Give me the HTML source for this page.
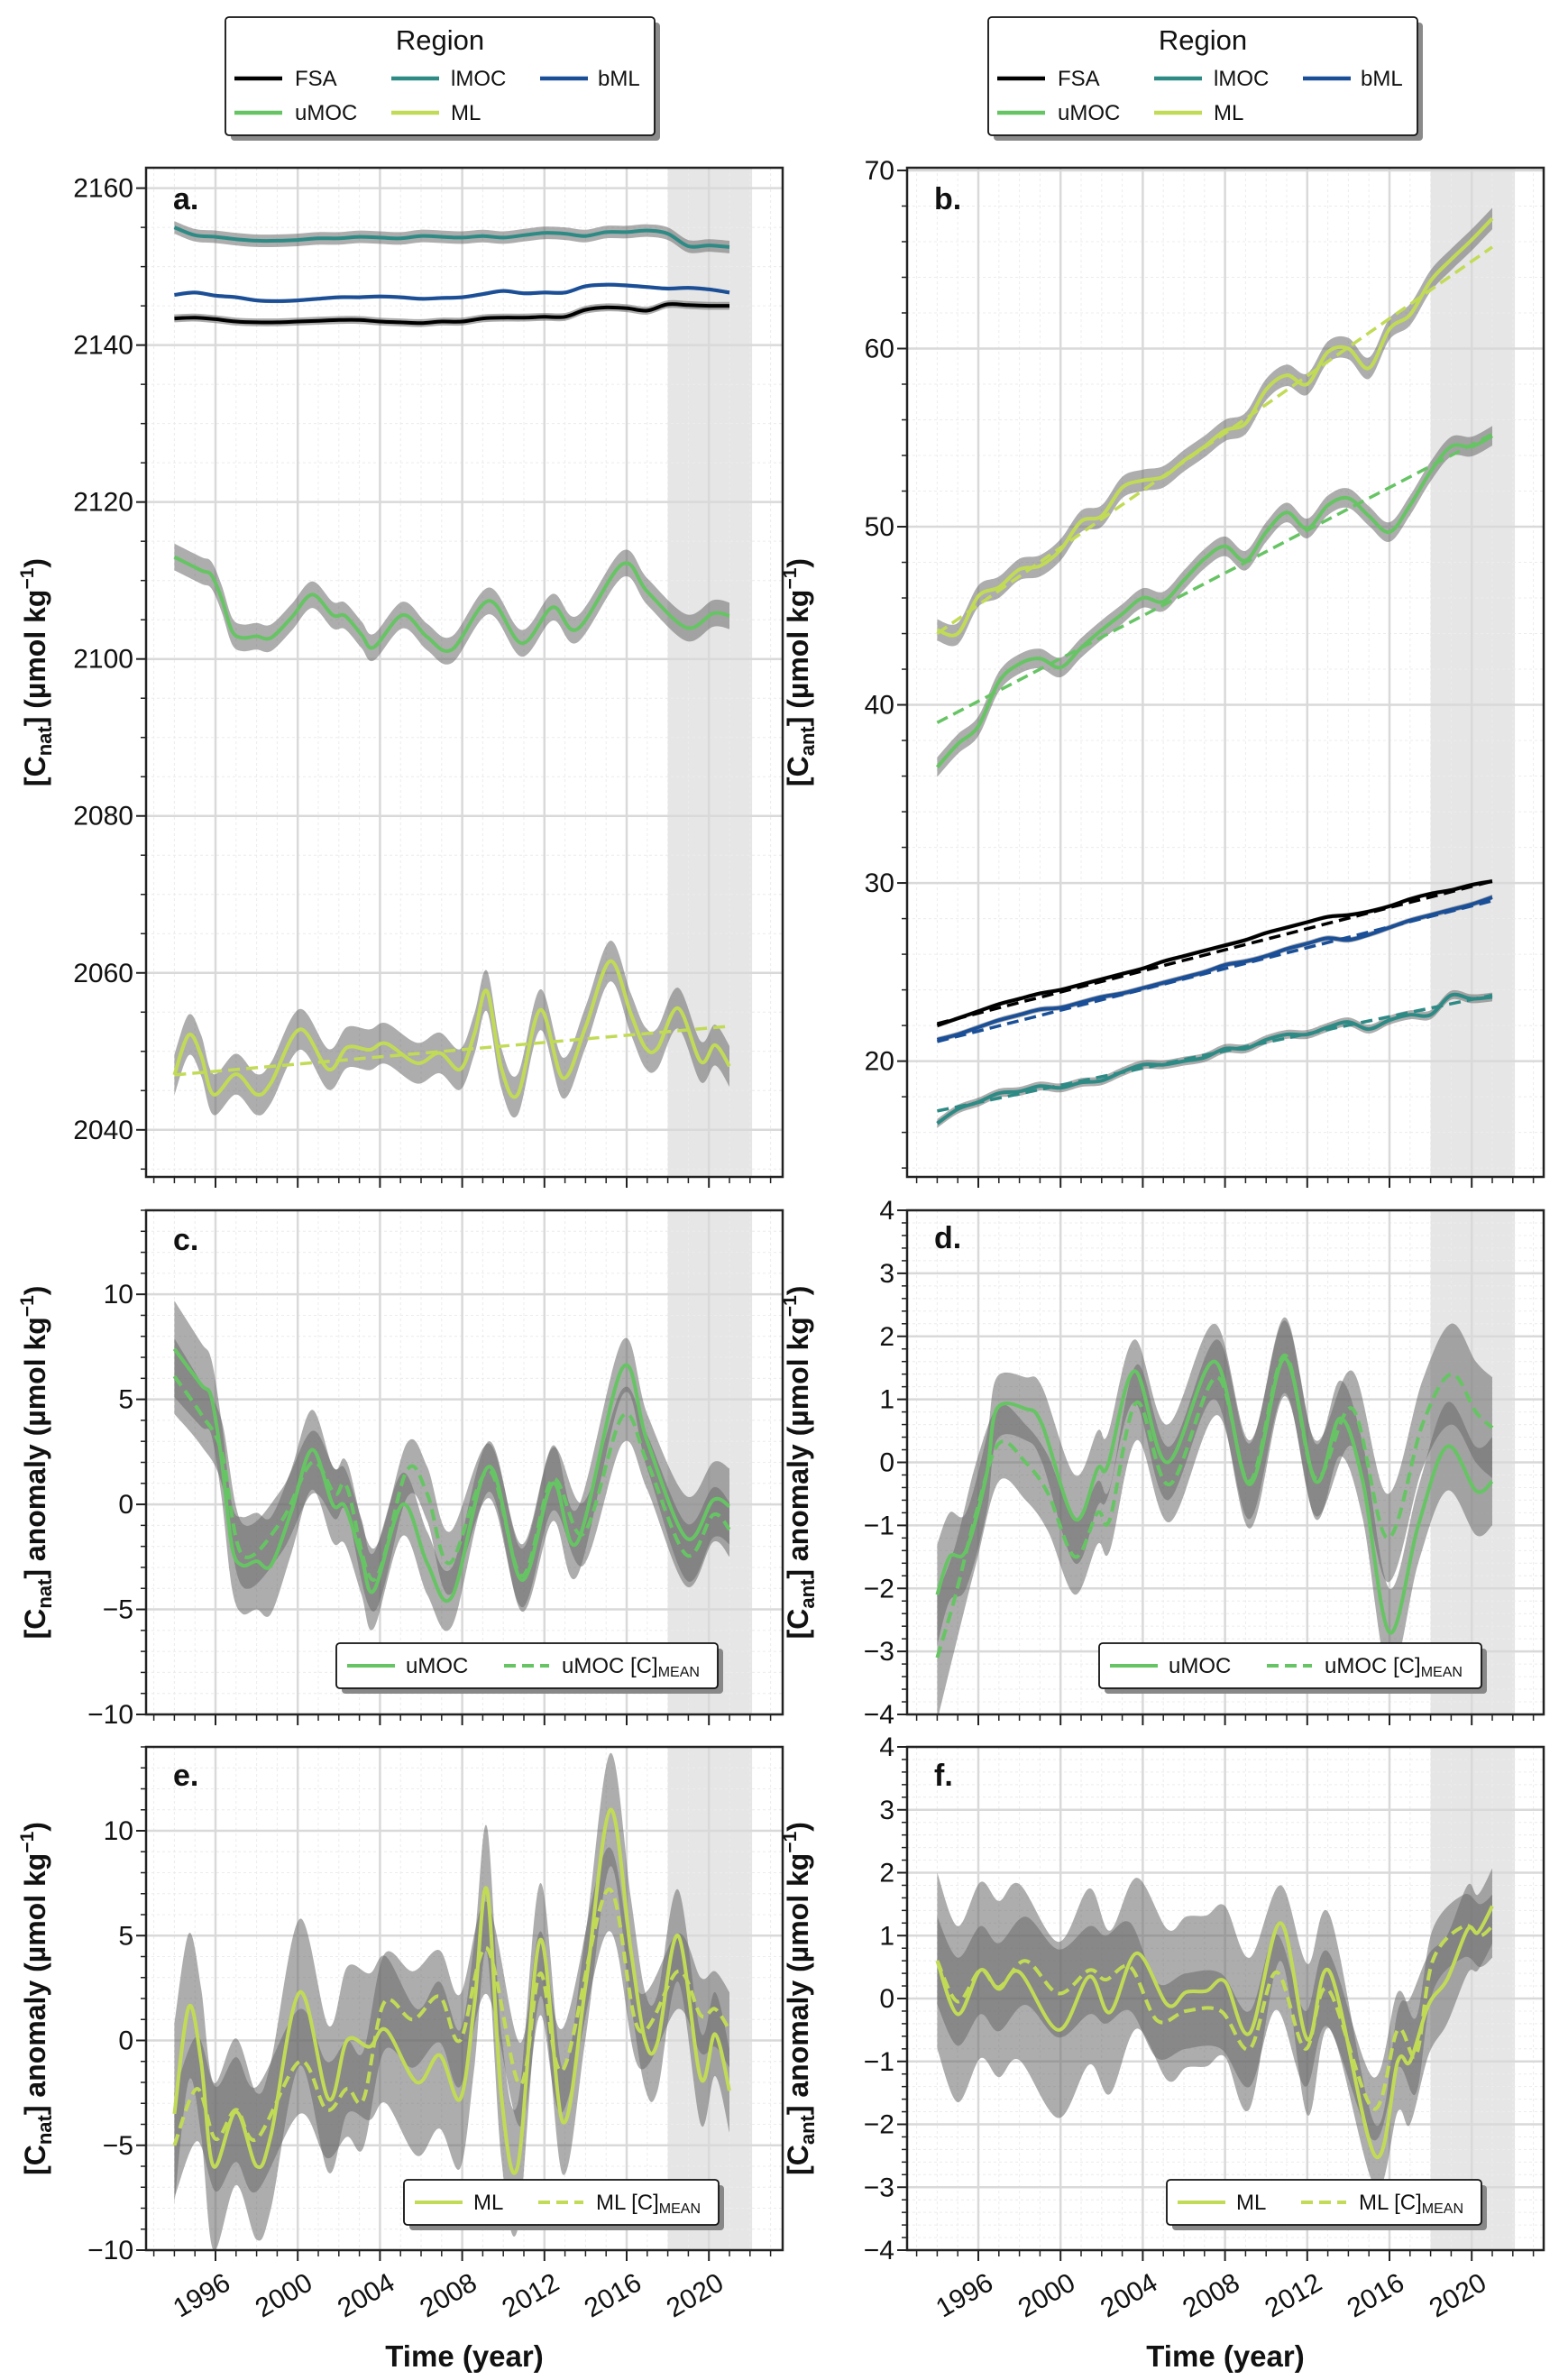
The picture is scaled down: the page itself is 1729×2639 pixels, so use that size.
<!DOCTYPE html>
<html><head><meta charset="utf-8"><style>
html,body{margin:0;padding:0;background:#fff;}
svg{display:block;font-family:"Liberation Sans",sans-serif;}
</style></head><body>
<svg id="fig" xmlns="http://www.w3.org/2000/svg" width="1729" height="2639" viewBox="0 0 1729 2639"></svg>
<script>
// ---------------- DATA ----------------
const bYears=[1994,1995,1996,1997,1998,1999,2000,2001,2002,2003,2004,2005,2006,2007,2008,2009,2010,2011,2012,2013,2014,2015,2016,2017,2018,2019,2020,2021];
const aFSA=[2143.4,2143.5,2143.3,2143.0,2142.9,2142.9,2143.0,2143.1,2143.2,2143.2,2143.0,2142.9,2142.8,2143.0,2143.0,2143.4,2143.5,2143.5,2143.6,2143.6,2144.5,2144.8,2144.7,2144.4,2145.2,2145.1,2145.0,2145.0];
const aBML=[2146.4,2146.7,2146.3,2146.1,2145.7,2145.6,2145.7,2145.9,2146.1,2146.1,2146.2,2146.1,2145.9,2146.0,2146.1,2146.5,2146.9,2146.6,2146.7,2146.7,2147.5,2147.7,2147.6,2147.4,2147.2,2147.3,2147.1,2146.7];
const aLMOC=[2155.0,2154.0,2153.8,2153.5,2153.3,2153.3,2153.4,2153.6,2153.6,2153.8,2153.7,2153.6,2153.9,2153.8,2153.7,2153.9,2153.7,2154.0,2154.3,2154.2,2153.9,2154.4,2154.4,2154.6,2154.2,2152.6,2152.7,2152.5];
const aUMOCYears=[1994,1995.3,1995.8,1996.3,1996.8,1997.3,1998,1998.7,1999.7,2000.7,2001.7,2002.3,2003.1,2003.7,2005.1,2006.3,2007.5,2009.3,2010.9,2012.4,2013.6,2015.8,2017,2018.9,2020.2,2021];
const aUMOC=[2113.0,2111.3,2110.7,2107.7,2103.6,2102.7,2102.9,2102.7,2105.3,2108.2,2105.6,2105.5,2103.1,2101.5,2105.6,2102.8,2101.2,2107.4,2102.0,2106.6,2103.8,2112.1,2108.6,2104.0,2105.8,2105.5];
const aMLYears=[1994,1994.7,1995.3,1995.9,1997,1998,1998.7,2000.1,2001.5,2002.4,2003.5,2004.3,2005.8,2006.9,2007.9,2008.6,2009.2,2009.9,2010.7,2011.8,2012.9,2014,2015.2,2016.2,2016.9,2017.5,2018.5,2019.6,2020.3,2021];
const aML=[2047.0,2052.1,2049.5,2044.5,2047.1,2044.5,2046.0,2052.8,2047.7,2050.5,2050.2,2051.0,2048.5,2049.8,2047.7,2052.3,2057.7,2047.9,2044.5,2055.3,2046.6,2053.1,2061.5,2054.8,2050.5,2050.4,2055.5,2048.7,2050.8,2048.1];
const aMLTrend=[2047.0,2053.2];
const trendYears=[1994,2021];

const bFSA=[22.0,22.4,22.8,23.2,23.5,23.8,24.0,24.3,24.6,24.9,25.2,25.6,25.9,26.2,26.5,26.8,27.2,27.5,27.8,28.1,28.2,28.4,28.7,29.1,29.4,29.6,29.9,30.1];
const bBML=[21.2,21.5,21.9,22.3,22.6,22.9,23.0,23.3,23.6,23.8,24.1,24.4,24.7,25.0,25.4,25.6,25.9,26.3,26.6,26.9,26.8,27.1,27.5,27.9,28.2,28.5,28.8,29.2];
const bLMOC=[16.5,17.3,17.7,18.2,18.3,18.6,18.5,18.8,18.9,19.4,19.8,19.8,20.0,20.2,20.7,20.7,21.2,21.5,21.5,21.9,22.2,21.8,22.3,22.6,22.6,23.7,23.5,23.6];
const bUMOC=[36.5,37.8,38.8,41.3,42.3,42.6,42.1,43.2,44.2,45.1,46.0,45.8,47.0,48.2,48.9,48.1,49.7,50.8,49.9,51.2,51.6,50.6,49.7,51.2,53.1,54.5,54.5,55.1];
const bML=[44.2,44.0,46.1,46.6,47.6,47.8,48.7,50.3,50.6,52.2,52.6,52.8,53.7,54.5,55.4,55.8,57.7,58.5,58.0,59.8,60.0,58.9,61.1,61.9,63.8,65.0,66.1,67.3];
const bMLTrend=[44.0,65.7];
const bUMOCTrend=[39.0,55.2];
const bFSATrend=[22.1,30.1];
const bBMLTrend=[21.1,29.0];
const bLMOCTrend=[17.2,23.7];

const cYears=[1994,1995.3,1995.8,1996.3,1996.8,1997.3,1998,1998.7,1999.7,2000.7,2001.7,2002.3,2003.1,2003.7,2005.1,2006.3,2007.5,2009.3,2010.9,2012.4,2013.6,2015.8,2017,2018.9,2020.2,2021];
const cSolid=[7.4,5.7,5.1,2.1,-2.0,-2.9,-2.7,-2.9,-0.3,2.6,0,-0.1,-2.5,-4.1,0,-2.8,-4.4,1.8,-3.6,1.0,-1.8,6.5,3.0,-1.6,0.2,-0.1];
const cSolidSpread=[2.3,2.0,1.8,1.8,2.0,2.3,2.3,2.3,2.0,1.9,1.8,1.8,1.8,1.8,1.5,1.5,1.4,1.2,1.5,1.8,1.6,1.3,1.3,2.0,1.8,1.8];
const cDashYears=[1994,1995.3,1996.3,1997.3,1999.2,2000.7,2001.8,2002.4,2003.7,2005.3,2006.3,2007.4,2009.3,2010.9,2012.4,2013.9,2015.8,2017,2018.9,2020.2,2021];
const cDash=[6.1,4.3,2.5,-2.4,-0.8,2.0,0.5,0.8,-3.6,1.6,0.5,-2.8,1.6,-3.4,1.2,-1.4,4.2,2.0,-2.4,-0.5,-1.2];
const cDashSpread=[1.8,1.5,1.5,1.5,1.5,1.5,1.2,1.2,1.5,1.3,1.3,1.5,1.3,1.5,1.5,1.5,1.3,1.3,1.5,1.3,1.3];

const dYears=[1994,1994.6,1995.4,1996.4,1996.9,1998.3,1999.1,2000.7,2001.8,2002.3,2003.6,2005.2,2007.5,2009.2,2010.9,2012.4,2013.6,2014.7,2016,2017.4,2018.8,2020.2,2021];
const dSolid=[-2.1,-1.5,-1.4,-0.2,0.85,0.85,0.6,-0.9,-0.1,-0.05,1.45,0,1.6,-0.35,1.65,-0.3,0.7,-0.3,-2.7,-1,0.25,-0.45,-0.3];
const dSolidSpread=[0.8,0.7,0.6,0.6,0.5,0.5,0.6,0.7,0.6,0.5,0.5,0.6,0.6,0.7,0.6,0.6,0.6,0.6,0.7,0.6,0.7,0.7,0.7];
const dDashYears=[1994,1994.9,1995.9,1997,1998.3,1999.4,2000.7,2001.8,2002.4,2003.7,2005.3,2007.6,2009.2,2010.9,2012.4,2014.2,2015.9,2017.6,2019,2020.2,2021];
const dDash=[-3.1,-2.1,-0.8,0.3,0,-0.5,-1.5,-0.8,-0.9,0.95,-0.35,1.35,-0.3,1.7,-0.25,0.85,-1.2,0.6,1.4,0.8,0.55];
const dDashSpread=[1.0,0.8,0.8,0.6,0.6,0.6,0.6,0.5,0.5,0.6,0.6,0.6,0.6,0.6,0.6,0.6,0.7,0.7,0.8,0.8,0.8];

const eYears=[1994,1994.7,1995.3,1995.9,1997,1998,1998.7,2000.1,2001.5,2002.4,2003.5,2004.3,2005.8,2006.9,2007.9,2008.6,2009.2,2009.9,2010.7,2011.8,2012.9,2014,2015.2,2016.2,2016.9,2017.5,2018.5,2019.6,2020.3,2021];
const eSolid=[-3.5,1.6,-1,-6,-3.4,-6,-4.5,2.3,-2.8,0,-0.3,0.5,-2,-0.7,-2.8,1.8,7.2,-2.6,-6,4.8,-3.9,2.6,11,4.3,0,-0.1,5,-1.8,0.3,-2.4];
const eSolidSpread=[4.3,3.5,3.5,4,3.5,3.5,3.5,3.5,3.5,3.5,3.5,3.5,3.5,3.5,3.3,3,3,3,3,2.7,2.5,2.5,2.7,2.5,2.3,2.3,2.2,2.2,2,2];
const eDashYears=[1994,1995.1,1996,1997,1998,2000.1,2001.4,2002.4,2003.2,2004.2,2005.6,2006.9,2007.9,2009.2,2010.8,2011.8,2012.9,2015.1,2016.6,2018.5,2019.6,2020.3,2021];
const eDash=[-5,-2.3,-4.7,-3.3,-4.7,-1,-3.3,-2.3,-2.8,1.8,1,2.1,0,4.4,-2.1,3.2,-1.4,7.2,0.5,3.3,1.2,1.5,0.5];
const eDashSpread=[2.5,2.5,2.5,2.5,2.5,2.5,2.3,2.3,2.3,2.3,2.3,2.2,2.2,2.2,2,2,2,2,1.8,1.8,1.8,1.8,1.8];

const fYears=[1994,1995,1996.1,1997,1998,1999.9,2001.4,2002.4,2003.7,2005.2,2006.1,2007.1,2008,2009.2,2010.7,2012,2013.1,2015.3,2016.4,2017,2017.9,2018.8,2019.8,2020.3,2021];
const fSolid=[0.6,-0.25,0.45,0.15,0.42,-0.5,0.35,-0.22,0.72,-0.1,0.1,0.12,0.27,-0.55,1.2,-0.65,0.42,-2.5,-1,-1,-0.1,0.3,1.1,1.05,1.47];
const fSolidSpread=[1.4,1.4,1.4,1.4,1.4,1.4,1.4,1.3,1.2,1.2,1.2,1.2,1.2,1.2,0.6,1.2,0.9,0.5,0.8,1.0,0.8,0.7,0.7,0.6,0.6];
const fDashYears=[1994,1995,1996.1,1997,1998.3,1999.9,2001.4,2002.2,2003.4,2004.7,2006.1,2007.8,2009.2,2010.5,2011.9,2013,2015.2,2016.4,2017.3,2018.1,2019.6,2020.4,2021];
const fDash=[0.6,-0.05,0.45,0.18,0.6,0.08,0.45,0.3,0.5,-0.35,-0.2,-0.2,-0.8,0.42,-0.8,0.15,-1.75,-0.5,-0.9,0.6,1.15,1.0,1.15];
const fDashSpread=[0.7,0.7,0.7,0.7,0.7,0.7,0.7,0.7,0.7,0.6,0.6,0.6,0.6,0.6,0.6,0.6,0.5,0.6,0.6,0.5,0.5,0.5,0.5];

const xTickYears=[1996,2000,2004,2008,2012,2016,2020];
const xTickLabels=["1996","2000","2004","2008","2012","2016","2020"];
const shadeYears=[2018,2022.1];

// ---------------- HELPERS ----------------
const NS="http://www.w3.org/2000/svg";
const svg=document.getElementById('fig');
function mk(tag,attrs,parent){const e=document.createElementNS(NS,tag);for(const k in attrs)e.setAttribute(k,attrs[k]);(parent||svg).appendChild(e);return e;}
const COL={FSA:"#000000",LMOC:"#2e8a85",BML:"#1a4f98",UMOC:"#67c464",ML:"#c1db57"};
const BAND="rgba(105,105,105,0.55)";

function smoothPath(pts,move){
  let d=(move===false?"L":"M")+pts[0][0].toFixed(1)+","+pts[0][1].toFixed(1);
  for(let i=0;i<pts.length-1;i++){
    const p0=pts[Math.max(0,i-1)],p1=pts[i],p2=pts[i+1],p3=pts[Math.min(pts.length-1,i+2)];
    const c1x=p1[0]+(p2[0]-p0[0])/6,c1y=p1[1]+(p2[1]-p0[1])/6;
    const c2x=p2[0]-(p3[0]-p1[0])/6,c2y=p2[1]-(p3[1]-p1[1])/6;
    d+="C"+c1x.toFixed(1)+","+c1y.toFixed(1)+" "+c2x.toFixed(1)+","+c2y.toFixed(1)+" "+p2[0].toFixed(1)+","+p2[1].toFixed(1);
  }
  return d;
}

function makePanel(o){
  const g=mk('g',{});
  
  
  const L=o.left,R=o.left+706,T=o.top,B=o.bottom;
  const x0=o.left===162?239:1085;
  const X=yr=>x0+(yr-1996)*22.8;
  const Y=v=>B-(v-o.ymin)/(o.ymax-o.ymin)*(B-T);
  const clipId='clip-'+o.id;
  const cp=mk('clipPath',{id:clipId},g);mk('rect',{x:L,y:T,width:R-L,height:B-T},cp);
  const sh=mk('rect',{x:X(shadeYears[0]),y:T,width:X(shadeYears[1])-X(shadeYears[0]),height:B-T,fill:"#e6e6e6"},g);
  
  
  for(let yr=1993;yr<=2023;yr++){ if(xTickYears.indexOf(yr)<0) mk('line',{x1:X(yr),x2:X(yr),y1:T,y2:B,stroke:"#ececec","stroke-width":1,"stroke-dasharray":"3,3"},g);}
  for(let v=Math.ceil(o.ymin/o.minor)*o.minor;v<=o.ymax;v+=o.minor){ const vv=+v.toFixed(4); if(Math.abs(vv/o.major-Math.round(vv/o.major))>1e-6) mk('line',{x1:L,x2:R,y1:Y(vv),y2:Y(vv),stroke:"#ececec","stroke-width":1,"stroke-dasharray":"3,3"},g);}
  xTickYears.forEach(yr=>mk('line',{x1:X(yr),x2:X(yr),y1:T,y2:B,stroke:"#d9d9d9","stroke-width":2.5},g));
  for(let v=Math.ceil(o.ymin/o.major)*o.major;v<=o.ymax+1e-9;v+=o.major) mk('line',{x1:L,x2:R,y1:Y(v),y2:Y(v),stroke:"#d9d9d9","stroke-width":2.5},g);
  const dg=mk('g',{'clip-path':'url(#'+clipId+')'},g);
  o.series.forEach(s=>{
    if(!s.spread) return;
    const sp=k=>Array.isArray(s.spread)?s.spread[k]:s.spread;
    const up=s.xs.map((yr,k)=>[X(yr),Y(s.vals[k]+sp(k))]);
    const lo=s.xs.map((yr,k)=>[X(yr),Y(s.vals[k]-sp(k))]).reverse();
    const p=mk('path',{d:smoothPath(up)+smoothPath(lo,false)+"Z",fill:BAND,stroke:"none"},dg);
    
    
  });
  o.series.forEach(s=>{
    const pts=s.xs.map((yr,k)=>[X(yr),Y(s.vals[k])]);
    const p=mk('path',{d:s.linear?("M"+pts.map(q=>q[0].toFixed(1)+","+q[1].toFixed(1)).join("L")):smoothPath(pts),fill:"none",stroke:s.color,"stroke-width":s.w||4,"stroke-dasharray":s.dash?"13,7":"none","stroke-linejoin":"round"},dg);
    
    
  });
  mk('rect',{x:L,y:T,width:R-L,height:B-T,fill:"none",stroke:"#222","stroke-width":2.5},g);
  for(let yr=1993;yr<=2023;yr++){const maj=xTickYears.indexOf(yr)>=0;mk('line',{x1:X(yr),x2:X(yr),y1:B,y2:B+(maj?12:7),stroke:"#222","stroke-width":maj?2:1.5},g);}
  if(o.xlabels){
    xTickYears.forEach((yr,k)=>{const t=mk('text',{x:0,y:0,transform:"translate("+(X(yr)+8)+","+(B+24)+") rotate(-30)","text-anchor":"end","dominant-baseline":"hanging","font-size":30,fill:"#111"},g);t.textContent=xTickLabels[k];
      
      });
    const xt=mk('text',{x:(L+R)/2,y:2624,"text-anchor":"middle","font-size":33,"font-weight":"bold",fill:"#111"},g);xt.textContent="Time (year)";
    
    
  }
  for(let v=Math.ceil(o.ymin/o.minor)*o.minor;v<=o.ymax+1e-9;v+=o.minor){const vv=+v.toFixed(4);mk('line',{x1:L-6,x2:L,y1:Y(vv),y2:Y(vv),stroke:"#222","stroke-width":1.5},g);}
  for(let v=Math.ceil(o.ymin/o.major)*o.major;v<=o.ymax+1e-9;v+=o.major){
    mk('line',{x1:L-11,x2:L,y1:Y(v),y2:Y(v),stroke:"#222","stroke-width":2},g);
    const t=mk('text',{x:L-14,y:Y(v)+10,"text-anchor":"end","font-size":30,fill:"#111"},g);t.textContent=(v<0?"\u2212"+(-v):String(+v.toFixed(2)));
    
    
  }
  const pl=mk('text',{x:L+30,y:o.letterY,"font-size":34,"font-weight":"bold",fill:"#111"},g);pl.textContent=o.id+".";
  
  
  const cy=(T+B)/2, tx=o.left===162?50:896;
  const yt=mk('text',{x:0,y:0,transform:"translate("+tx+","+cy+") rotate(-90)","text-anchor":"middle","font-size":32,"font-weight":"bold",fill:"#111"},g);
  
  
  const parts=[["[C",0],[o.sub,"sub"],["]"+o.ytitle+" (\u00b5mol  kg",0],["\u22121","sup"],[")",0]];
  parts.forEach(pp=>{const ts=mk('tspan',{},yt);ts.textContent=pp[0];if(pp[1]==="sub"){ts.setAttribute('font-size',22);ts.setAttribute('dy',7);}else if(pp[1]==="sup"){ts.setAttribute('font-size',21);ts.setAttribute('dy',-13);}else if(pp[0]==="]"+o.ytitle+" (\u00b5mol  kg"){ts.setAttribute('dy',-7);}else if(pp[0]===")"){ts.setAttribute('dy',13);}});
  if(o.legend){
    const lg=mk('g',{},g);
    
    
    const lx=o.legend.x,ly=o.legend.y,lw=o.legend.w,lh=50;
    mk('rect',{x:lx+6,y:ly+6,width:lw,height:lh,rx:4,fill:"#888"},lg);
    mk('rect',{x:lx,y:ly,width:lw,height:lh,rx:4,fill:"#fff",stroke:"#111","stroke-width":1.8},lg);
    const cyl=ly+lh/2;
    mk('line',{x1:lx+12,x2:lx+65,y1:cyl,y2:cyl,stroke:o.legend.color,"stroke-width":4},lg);
    const t1=mk('text',{x:lx+77,y:cyl+8,"font-size":24,fill:"#111"},lg);t1.textContent=o.legend.name;
    mk('line',{x1:lx+o.legend.dx,x2:lx+o.legend.dx+50,y1:cyl,y2:cyl,stroke:o.legend.color,"stroke-width":4,"stroke-dasharray":"13,7"},lg);
    const t2=mk('text',{x:lx+o.legend.dx+64,y:cyl+8,"font-size":24,fill:"#111"},lg);
    const a=mk('tspan',{},t2);a.textContent=o.legend.name+" [C]";
    const b=mk('tspan',{"font-size":16,dy:4},t2);b.textContent="MEAN";
  }
}

function regionLegend(ox){
  const g=mk('g',{});
  
  
  mk('rect',{x:ox+6,y:25,width:476,height:131,rx:4,fill:"#8a8a8a"},g);
  mk('rect',{x:ox,y:19,width:476,height:131,rx:4,fill:"#fff",stroke:"#111","stroke-width":1.8},g);
  const t=mk('text',{x:ox+238,y:55,"text-anchor":"middle","font-size":31,fill:"#111"},g);t.textContent="Region";
  const items=[["FSA",COL.FSA,10,77,87],["lMOC",COL.LMOC,184,250,87],["bML",COL.BML,349,413,87],["uMOC",COL.UMOC,10,77,125],["ML",COL.ML,184,250,125]];
  items.forEach(it=>{
    mk('line',{x1:ox+it[2],x2:ox+it[2]+53,y1:it[4],y2:it[4],stroke:it[1],"stroke-width":4.5},g);
    const tt=mk('text',{x:ox+it[3],y:it[4]+8,"font-size":24,fill:"#111"},g);tt.textContent=it[0];
    
    
  });
}
regionLegend(250);
regionLegend(1096);

makePanel({id:"a",left:162,top:186,bottom:1305,ymin:2034,ymax:2162.6,major:20,minor:5,sub:"nat",ytitle:"",letterY:232,
  series:[
    {name:"lmoc",xs:bYears,vals:aLMOC,color:COL.LMOC,spread:0.8},
    {name:"bml",xs:bYears,vals:aBML,color:COL.BML,spread:0.25},
    {name:"fsa",xs:bYears,vals:aFSA,color:COL.FSA,spread:0.5},
    {name:"umoc",xs:aUMOCYears,vals:aUMOC,color:COL.UMOC,spread:1.7},
    {name:"ml",xs:aMLYears,vals:aML,color:COL.ML,spread:2.6},
    {name:"ml-trend",xs:trendYears,vals:aMLTrend,color:COL.ML,dash:true,linear:true,w:3.5}
  ]});
makePanel({id:"b",left:1006,top:186,bottom:1305,ymin:13.5,ymax:70.15,major:10,minor:2,sub:"ant",ytitle:"",letterY:232,
  series:[
    {name:"ml",xs:bYears,vals:bML,color:COL.ML,spread:0.6},
    {name:"umoc",xs:bYears,vals:bUMOC,color:COL.UMOC,spread:0.55},
    {name:"fsa",xs:bYears,vals:bFSA,color:COL.FSA,spread:0.12},
    {name:"bml",xs:bYears,vals:bBML,color:COL.BML,spread:0.15},
    {name:"lmoc",xs:bYears,vals:bLMOC,color:COL.LMOC,spread:0.25},
    {name:"ml-trend",xs:trendYears,vals:bMLTrend,color:COL.ML,dash:true,linear:true,w:3.5},
    {name:"umoc-trend",xs:trendYears,vals:bUMOCTrend,color:COL.UMOC,dash:true,linear:true,w:3.5},
    {name:"fsa-trend",xs:trendYears,vals:bFSATrend,color:COL.FSA,dash:true,linear:true,w:3.5},
    {name:"bml-trend",xs:trendYears,vals:bBMLTrend,color:COL.BML,dash:true,linear:true,w:3.5},
    {name:"lmoc-trend",xs:trendYears,vals:bLMOCTrend,color:COL.LMOC,dash:true,linear:true,w:3.5}
  ]});
makePanel({id:"c",left:162,top:1342,bottom:1901,ymin:-10,ymax:14,major:5,minor:1,sub:"nat",ytitle:" anomaly",letterY:1386,
  legend:{x:373,y:1822,w:423,color:COL.UMOC,name:"uMOC",dx:186},
  series:[
    {name:"umoc",xs:cYears,vals:cSolid,color:COL.UMOC,spread:cSolidSpread},
    {name:"umoc-cmean",xs:cDashYears,vals:cDash,color:COL.UMOC,spread:cDashSpread,dash:true}
  ]});
makePanel({id:"d",left:1006,top:1342,bottom:1901,ymin:-4,ymax:4,major:1,minor:0.2,sub:"ant",ytitle:" anomaly",letterY:1384,
  legend:{x:1219,y:1822,w:424,color:COL.UMOC,name:"uMOC",dx:186},
  series:[
    {name:"umoc",xs:dYears,vals:dSolid,color:COL.UMOC,spread:dSolidSpread},
    {name:"umoc-cmean",xs:dDashYears,vals:dDash,color:COL.UMOC,spread:dDashSpread,dash:true}
  ]});
makePanel({id:"e",left:162,top:1937,bottom:2495,ymin:-10,ymax:14,major:5,minor:1,sub:"nat",ytitle:" anomaly",letterY:1980,xlabels:true,
  legend:{x:448,y:2417,w:349,color:COL.ML,name:"ML",dx:149},
  series:[
    {name:"ml",xs:eYears,vals:eSolid,color:COL.ML,spread:eSolidSpread},
    {name:"ml-cmean",xs:eDashYears,vals:eDash,color:COL.ML,spread:eDashSpread,dash:true}
  ]});
makePanel({id:"f",left:1006,top:1937,bottom:2495,ymin:-4,ymax:4,major:1,minor:0.2,sub:"ant",ytitle:" anomaly",letterY:1980,xlabels:true,
  legend:{x:1294,y:2417,w:349,color:COL.ML,name:"ML",dx:149},
  series:[
    {name:"ml",xs:fYears,vals:fSolid,color:COL.ML,spread:fSolidSpread},
    {name:"ml-cmean",xs:fDashYears,vals:fDash,color:COL.ML,spread:fDashSpread,dash:true}
  ]});
</script>
</body></html>
